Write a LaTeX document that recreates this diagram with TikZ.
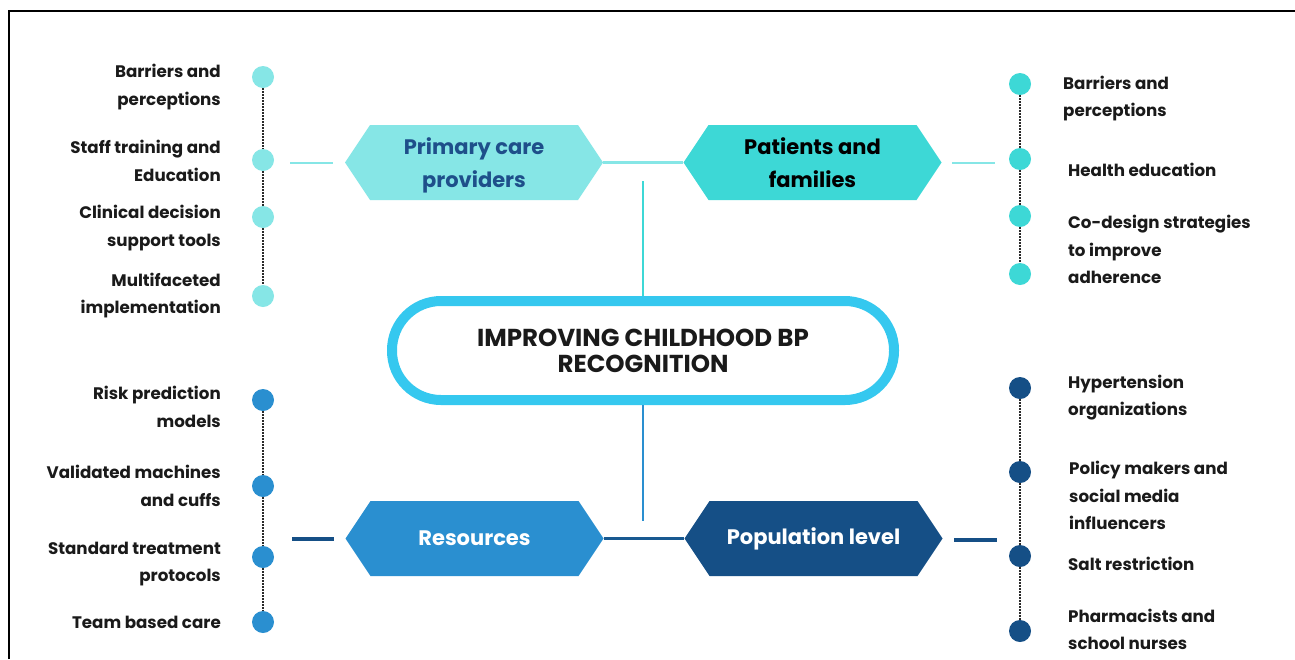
\documentclass[tikz,border=0pt]{standalone}
\usepackage{fontspec}
\setmainfont{Poppins}
\definecolor{lcyan}{HTML}{86E6E6}
\definecolor{turq}{HTML}{3DD8D6}
\definecolor{mblue}{HTML}{2A8FD0}
\definecolor{dblue}{HTML}{154F86}
\definecolor{pctext}{HTML}{1E4F8A}
\definecolor{ring}{HTML}{35C8EF}
\definecolor{labelc}{HTML}{1A1A1A}
\definecolor{dotc}{HTML}{2A2A2A}
\begin{document}
\begin{tikzpicture}[x=1pt,y=-1pt,
  lbl/.style={font=\fontsize{16.7}{27.5}\selectfont\bfseries, text=labelc, inner sep=0pt},
  lleft/.style={lbl, anchor=east, align=right},
  lright/.style={lbl, anchor=west, align=left},
  dot/.style={circle, fill=#1, minimum size=22pt, inner sep=0pt},
  dotline/.style={draw=dotc, line width=2.4pt, dash pattern=on 1.6pt off 1.4pt},
  hexa/.style 2 args={minimum width=258pt, minimum height=75pt, inner sep=0pt,
    align=center, text=#2, font=\fontsize{21}{33}\selectfont\bfseries,
    path picture={\fill[#1] (path picture bounding box.west)
      -- ([xshift=25pt]path picture bounding box.north west)
      -- ([xshift=-25pt]path picture bounding box.north east)
      -- (path picture bounding box.east)
      -- ([xshift=-25pt]path picture bounding box.south east)
      -- ([xshift=25pt]path picture bounding box.south west) -- cycle;}},
  link/.style={line width=2.6pt}
]
\useasboundingbox (0,0) rectangle (1295,659);
\fill[white] (0,0) rectangle (1295,659);
% frame
\draw[line width=1.4pt] (9,659) -- (9,11) -- (1295,11);

% hexagons
\node[hexa={lcyan}{pctext}, text depth=0pt] (pcp) at (474,162.5) {Primary care\\providers};
\node[hexa={turq}{black}] (paf) at (812.5,162.5) {Patients and\\families};
\node[hexa={mblue}{white}] (res) at (474.5,538.5) {Resources};
\node[hexa={dblue}{white}] (pop) at (813.5,538.5) {Population level};

% central
\node[draw=ring, line width=10pt, rounded corners=49pt, minimum width=502pt,
  minimum height=99pt, align=center, font=\fontsize{24.5}{26}\selectfont\bfseries,
  text=labelc] (cen) at (643,350.5) {IMPROVING CHILDHOOD BP\\RECOGNITION};

% connectors
\draw[link, draw=lcyan] (pcp.east) -- (paf.west);
\draw[link, draw=dblue!85!mblue] (res.east) -- (pop.west);
\coordinate (vt) at (643,181);
\coordinate (vb) at (643,521);
\draw[link, draw=turq] (vt) -- (cen.north);
\draw[link, draw=mblue] (cen.south) -- (vb);
\coordinate (s1a) at (290,163); \coordinate (s1b) at (333,163);
\coordinate (s2a) at (952,163); \coordinate (s2b) at (995,163);
\coordinate (s3a) at (292,539); \coordinate (s3b) at (334,539);
\coordinate (s4a) at (954,540); \coordinate (s4b) at (997,540);
\draw[link, draw=lcyan] (s1a) -- (s1b);
\draw[link, draw=lcyan] (s2a) -- (s2b);
\draw[link, line width=3.2pt, draw=dblue] (s3a) -- (s3b);
\draw[link, line width=3.2pt, draw=dblue] (s4a) -- (s4b);

% left dots
\node[dot=lcyan] (a1) at (263,77) {};
\node[dot=lcyan] (a2) at (263,160) {};
\node[dot=lcyan] (a3) at (263,217) {};
\node[dot=lcyan] (a4) at (263,296) {};
\node[dot=mblue] (a5) at (263,400) {};
\node[dot=mblue] (a6) at (263,486) {};
\node[dot=mblue] (a7) at (263,557) {};
\node[dot=mblue] (a8) at (263,622) {};
\draw[dotline] (a1) -- (a2); \draw[dotline] (a2) -- (a3); \draw[dotline] (a3) -- (a4);
\draw[dotline] (a5) -- (a6); \draw[dotline] (a6) -- (a7); \draw[dotline] (a7) -- (a8);

% right dots
\node[dot=turq] (b1) at (1020,84) {};
\node[dot=turq] (b2) at (1020,159) {};
\node[dot=turq] (b3) at (1020,216) {};
\node[dot=turq] (b4) at (1020,274) {};
\node[dot=dblue] (b5) at (1020,388) {};
\node[dot=dblue] (b6) at (1020,472) {};
\node[dot=dblue] (b7) at (1020,556) {};
\node[dot=dblue] (b8) at (1020,631) {};
\draw[dotline] (b1) -- (b2); \draw[dotline] (b2) -- (b3); \draw[dotline] (b3) -- (b4);
\draw[dotline] (b5) -- (b6); \draw[dotline] (b6) -- (b7); \draw[dotline] (b7) -- (b8);

% left labels
\node[lleft] (l1) at (221,87) {Barriers and\\perceptions};
\node[lleft] (l2) at (221,161) {Staff training and\\Education};
\node[lleft] (l3) at (221,228) {Clinical decision\\support tools};
\node[lleft] (l4) at (221,295.5) {Multifaceted\\implementation};
\node[lleft] (l5) at (221,407) {Risk prediction\\models};
\node[lleft] (l6) at (221,486) {Validated machines\\and cuffs};
\node[lleft] (l7) at (221,564) {Standard treatment\\protocols};
\node[lleft] (l8) at (221,622) {Team based care};

% right labels
\node[lright] (r1) at (1063,98.5) {Barriers and\\perceptions};
\node[lright] (r2) at (1068,170) {Health education};
\node[lright] (r3) at (1068,249.5) {Co-design strategies\\to improve\\adherence};
\node[lright] (r4) at (1068,397.5) {Hypertension\\organizations};
\node[lright] (r5) at (1069,495.5) {Policy makers and\\social media\\influencers};
\node[lright] (r6) at (1068,564) {Salt restriction};
\node[lright] (r7) at (1068,629.5) {Pharmacists and\\school nurses};
\end{tikzpicture}
\end{document}
